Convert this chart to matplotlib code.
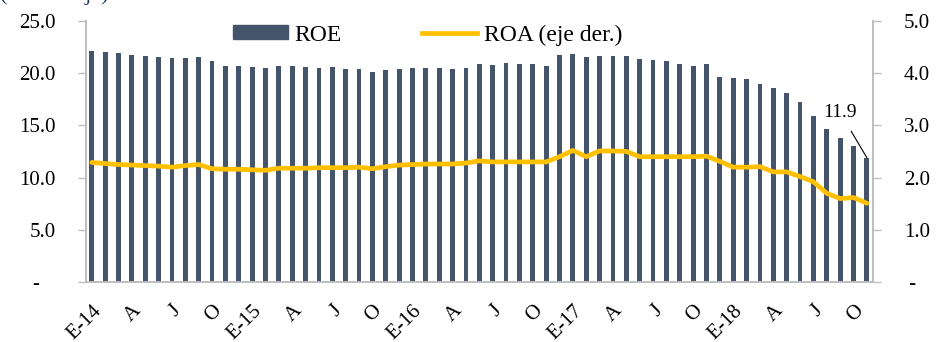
import matplotlib
matplotlib.use("Agg")
import matplotlib.pyplot as plt
from matplotlib.patches import Patch
from matplotlib.lines import Line2D

plt.rcParams['font.family'] = ['Liberation Serif', 'DejaVu Serif']

# monthly data, Jan-2014 .. Nov-2018
roe = [22.1, 22.0, 21.9, 21.7, 21.6, 21.5, 21.4, 21.4, 21.5, 21.1, 20.7, 20.7,
       20.6, 20.5, 20.7, 20.7, 20.6, 20.5, 20.6, 20.4, 20.4, 20.1, 20.3, 20.4,
       20.5, 20.5, 20.5, 20.4, 20.5, 20.9, 20.8, 21.0, 20.9, 20.9, 20.7, 21.7,
       21.8, 21.5, 21.6, 21.6, 21.6, 21.3, 21.2, 21.1, 20.9, 20.7, 20.9, 19.6,
       19.5, 19.4, 18.9, 18.6, 18.1, 17.2, 15.9, 14.6, 13.8, 13.0, 11.9]
roa = [2.29, 2.27, 2.25, 2.24, 2.23, 2.22, 2.20, 2.23, 2.25, 2.17, 2.16, 2.16,
       2.15, 2.14, 2.18, 2.18, 2.18, 2.19, 2.19, 2.19, 2.20, 2.17, 2.21, 2.24,
       2.25, 2.26, 2.26, 2.26, 2.28, 2.32, 2.30, 2.30, 2.30, 2.30, 2.30, 2.40,
       2.52, 2.40, 2.51, 2.51, 2.50, 2.40, 2.40, 2.40, 2.40, 2.40, 2.41, 2.31,
       2.20, 2.20, 2.21, 2.11, 2.11, 2.02, 1.92, 1.70, 1.60, 1.62, 1.51]
tick_labels = ['E-14', 'A', 'J', 'O', 'E-15', 'A', 'J', 'O', 'E-16', 'A', 'J', 'O',
               'E-17', 'A', 'J', 'O', 'E-18', 'A', 'J', 'O']

bar_color = '#44546A'
line_color = '#FFC000'
grey = '#BFBFBF'

x = list(range(len(roe)))

fig = plt.figure(figsize=(9.45, 3.42), dpi=100)
ax = fig.add_axes([0.091, 0.1746, 0.833, 0.765])
ax2 = ax.twinx()

ax.bar(x, roe, width=0.36, color=bar_color, zorder=2)
ax2.plot(x, roa, color=line_color, lw=3.4, solid_joinstyle='round',
         solid_capstyle='round', zorder=3)
ax.set_zorder(1)
ax2.set_zorder(2)
ax2.patch.set_visible(False)

ax.set_xlim(-0.43, 58.47)
ax.set_ylim(0, 25)
ax2.set_ylim(0, 5)

ax.set_yticks([0, 5, 10, 15, 20, 25])
ax.set_yticklabels(['-   '] + ['%.1f' % v for v in [5, 10, 15, 20, 25]])
ax2.set_yticks([0, 1, 2, 3, 4, 5])
ax2.set_yticklabels([' -'] + ['%.1f' % v for v in [1, 2, 3, 4, 5]])

ax.set_xticks(x[::3])
ax.set_xticklabels(tick_labels, rotation=45, ha='right', va='top',
                   rotation_mode='anchor')

ax.tick_params(axis='y', length=6, width=1, color=grey, labelsize=15, pad=16)
ax2.tick_params(axis='y', length=6, width=1, color=grey, labelsize=15, pad=16)
ax.tick_params(axis='x', length=0, labelsize=15, pad=14)

for a in (ax, ax2):
    a.spines['top'].set_visible(False)
    for s in ('left', 'right', 'bottom'):
        a.spines[s].set_color(grey)
        a.spines[s].set_linewidth(1.3)

# label on last bar
ax.annotate('11.9', xy=(x[-1], roe[-1]), xytext=(56.0, 16.2),
            ha='center', va='center', fontsize=14,
            arrowprops=dict(arrowstyle='-', color='black', lw=0.8,
                            shrinkA=6, shrinkB=0))

handles = [Patch(color=bar_color), Line2D([0], [0], color=line_color, lw=3.4)]
ax.legend(handles, ['ROE', 'ROA (eje der.)'], ncol=2, frameon=False,
          loc='center', bbox_to_anchor=(0.434, 0.945), fontsize=17,
          handlelength=2.3, handleheight=0.55, handletextpad=0.3,
          columnspacing=3.4, borderaxespad=0)

# title cut at the top of the image (only descenders visible)
fig.text(0.0, 1.0, '(Porcentaje)', color='#1F3864', fontsize=16,
         ha='left', va='baseline')

fig.savefig('out.png', dpi=100)
